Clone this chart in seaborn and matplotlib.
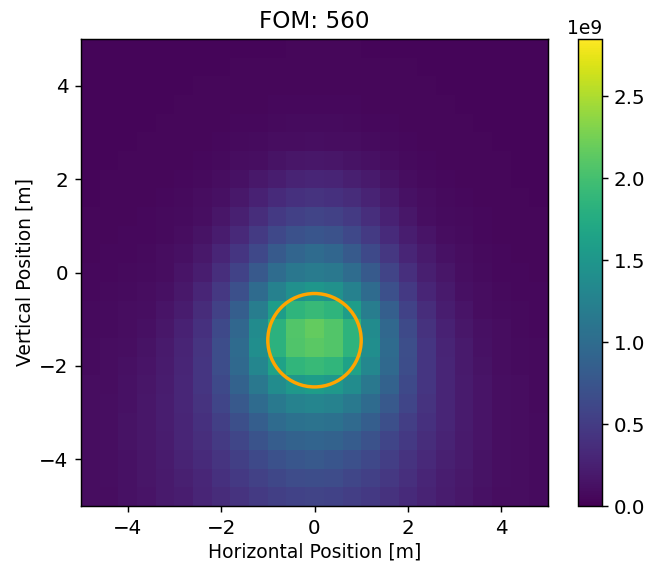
import matplotlib
matplotlib.use("Agg")
import matplotlib.pyplot as plt
from matplotlib.patches import Circle
import numpy as np
import pandas as pd
import seaborn as sns

title = "FOM: 560"
x_label = "Horizontal Position [m]"
y_label = "Vertical Position [m]"
tick_values = [-4, -2, 0, 2, 4]
x_centers = [-4.8, -4.4, -4.0, -3.6, -3.2, -2.8, -2.4, -2.0, -1.6, -1.2, -0.8, -0.4, 0.0,
             0.4, 0.8, 1.2, 1.6, 2.0, 2.4, 2.8, 3.2, 3.6, 4.0, 4.4, 4.8]
y_centers = x_centers[::-1]
circle_center = (0.0, -1.45)
circle_radius = 1.0
color_max = 2.85e9

# Coarse reading of the intensity field, in units of 1e9, top row first
intensity_e9 = [
 [.04,.04,.04,.04,.04,.04,.04,.04,.04,.04,.04,.05,.05,.05,.05,.04,.04,.04,.04,.04,.04,.04,.04,.04,.04],
 [.04,.04,.04,.04,.04,.04,.04,.04,.05,.05,.05,.05,.05,.05,.05,.05,.05,.05,.04,.04,.04,.04,.04,.04,.04],
 [.04,.04,.04,.04,.04,.04,.05,.05,.05,.05,.05,.05,.05,.05,.05,.05,.05,.05,.05,.04,.04,.04,.04,.04,.04],
 [.04,.04,.04,.04,.04,.05,.05,.05,.05,.05,.06,.06,.06,.06,.06,.05,.05,.05,.05,.05,.04,.04,.04,.04,.04],
 [.04,.04,.04,.04,.05,.05,.05,.05,.06,.06,.07,.08,.08,.08,.07,.06,.06,.05,.05,.05,.05,.04,.04,.04,.04],
 [.04,.04,.04,.05,.05,.05,.05,.06,.07,.08,.09,.10,.11,.10,.09,.08,.07,.06,.05,.05,.05,.05,.04,.04,.04],
 [.04,.04,.05,.05,.05,.05,.06,.07,.09,.11,.14,.16,.17,.16,.14,.12,.09,.07,.06,.05,.05,.05,.05,.04,.04],
 [.04,.05,.05,.05,.05,.06,.07,.09,.13,.18,.23,.27,.29,.28,.24,.19,.14,.10,.07,.06,.05,.05,.05,.04,.04],
 [.04,.05,.05,.05,.06,.07,.09,.12,.18,.26,.34,.39,.42,.40,.35,.27,.19,.13,.09,.07,.06,.05,.05,.05,.04],
 [.05,.05,.05,.06,.07,.08,.11,.16,.25,.36,.47,.54,.57,.55,.48,.37,.26,.17,.11,.08,.07,.06,.05,.05,.05],
 [.05,.05,.06,.06,.07,.10,.14,.22,.33,.48,.62,.71,.75,.72,.62,.48,.34,.23,.15,.10,.08,.06,.05,.05,.05],
 [.05,.06,.06,.07,.09,.12,.18,.29,.44,.62,.80,.92,.98,.93,.80,.63,.45,.30,.19,.13,.09,.07,.06,.05,.05],
 [.06,.06,.07,.08,.10,.15,.23,.37,.56,.79,1.00,1.13,1.18,1.14,1.00,.80,.57,.38,.24,.16,.11,.08,.06,.06,.05],
 [.06,.07,.08,.09,.12,.18,.29,.46,.70,.98,1.24,1.42,1.50,1.43,1.24,.98,.70,.47,.30,.19,.12,.09,.07,.06,.06],
 [.07,.08,.09,.11,.15,.22,.35,.55,.84,1.20,1.58,1.85,1.92,1.85,1.58,1.20,.85,.56,.36,.23,.15,.10,.08,.07,.06],
 [.07,.08,.10,.12,.17,.26,.40,.63,.94,1.36,1.82,2.08,2.16,2.08,1.84,1.36,.95,.64,.41,.26,.17,.12,.09,.07,.06],
 [.08,.09,.11,.14,.19,.28,.43,.66,.98,1.40,1.82,2.06,2.12,2.08,1.84,1.40,.98,.67,.44,.28,.19,.13,.09,.08,.07],
 [.08,.10,.12,.15,.21,.30,.44,.66,.96,1.31,1.64,1.86,1.92,1.87,1.64,1.32,.96,.66,.44,.30,.20,.14,.10,.08,.07],
 [.09,.10,.13,.16,.22,.31,.44,.63,.88,1.14,1.38,1.52,1.58,1.52,1.38,1.14,.88,.63,.44,.30,.21,.15,.11,.09,.07],
 [.09,.11,.13,.17,.23,.31,.42,.58,.78,.98,1.15,1.26,1.30,1.26,1.15,.98,.78,.58,.42,.30,.21,.15,.11,.09,.07],
 [.09,.11,.14,.17,.23,.30,.40,.53,.69,.84,.98,1.06,1.09,1.06,.97,.84,.68,.52,.39,.29,.21,.15,.11,.09,.08],
 [.09,.11,.14,.17,.22,.29,.37,.48,.60,.73,.83,.89,.91,.89,.82,.72,.59,.47,.36,.27,.20,.15,.11,.09,.08],
 [.09,.11,.13,.16,.21,.27,.34,.43,.53,.63,.71,.76,.78,.75,.70,.62,.52,.42,.33,.25,.19,.14,.11,.09,.08],
 [.09,.11,.13,.16,.20,.25,.31,.39,.47,.55,.61,.65,.66,.65,.60,.54,.46,.38,.30,.23,.18,.14,.11,.09,.08],
 [.09,.10,.13,.15,.19,.23,.29,.35,.42,.48,.53,.56,.57,.56,.52,.47,.41,.34,.27,.22,.17,.13,.10,.09,.08],
]

frame = pd.DataFrame(np.array(intensity_e9) * 1e9, index=y_centers, columns=x_centers)
step = x_centers[1] - x_centers[0]
left_edge = x_centers[0] - step / 2
top_edge = y_centers[0] + step / 2

W, H, DPI = 646, 563, 130
fig = plt.figure(figsize=(W / DPI, H / DPI), dpi=DPI)
ax = fig.add_axes([81 / W, 1 - 506 / H, 467 / W, 467 / H])
cax = fig.add_axes([578 / W, 1 - 506 / H, 24 / W, 467 / H])

sns.heatmap(frame, ax=ax, cbar_ax=cax, cmap="viridis", vmin=0, vmax=color_max,
            xticklabels=False, yticklabels=False, square=False)

to_col = lambda v: (v - left_edge) / step
to_row = lambda v: (top_edge - v) / step

ax.set_xticks([to_col(v) for v in tick_values])
ax.set_xticklabels([str(v).replace("-", "\u2212") for v in tick_values], rotation=0)
ax.set_yticks([to_row(v) for v in tick_values])
ax.set_yticklabels([str(v).replace("-", "\u2212") for v in tick_values], rotation=0)
ax.tick_params(length=3.5, width=0.8, labelsize=11)
ax.set_xlabel(x_label, fontsize=10.4, labelpad=2.5)
ax.set_ylabel(y_label, fontsize=10.4, labelpad=2.5)
ax.set_title(title, fontsize=12.8)
for spine in ax.spines.values():
    spine.set_visible(True)
    spine.set_linewidth(0.8)

ax.add_patch(Circle((to_col(circle_center[0]), to_row(circle_center[1])),
                    circle_radius / step, fill=False, edgecolor="orange", linewidth=1.9))

cbar = ax.collections[0].colorbar
cbar.outline.set_linewidth(0.8)
cbar.outline.set_edgecolor("black")
cbar.set_ticks([0, 0.5e9, 1.0e9, 1.5e9, 2.0e9, 2.5e9])
cbar.ax.tick_params(length=3.5, width=0.8, labelsize=11, pad=3)
cbar.ax.yaxis.get_offset_text().set_fontsize(10.4)

fig.savefig("out.png", dpi=DPI)
